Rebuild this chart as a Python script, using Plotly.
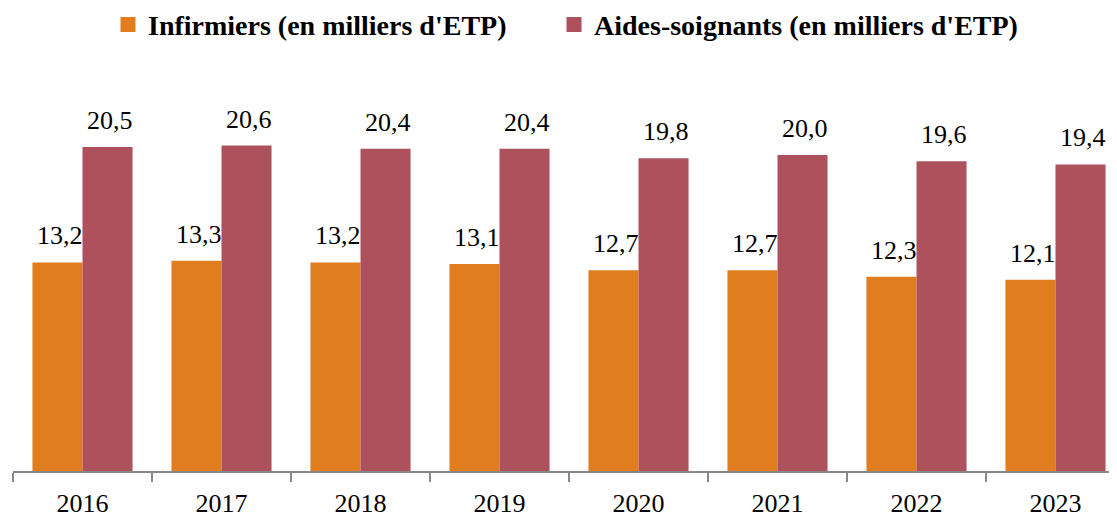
import plotly.graph_objects as go

years = ["2016", "2017", "2018", "2019", "2020", "2021", "2022", "2023"]
infirmiers = [13.2, 13.3, 13.2, 13.1, 12.7, 12.7, 12.3, 12.1]
aides = [20.5, 20.6, 20.4, 20.4, 19.8, 20.0, 19.6, 19.4]
name_inf = "Infirmiers (en milliers d'ETP)"
name_aid = "Aides-soignants (en milliers d'ETP)"

c_inf = "#E07D1E"
c_aid = "#AD525C"
serif = "Liberation Serif, Times New Roman, serif"

def fmt(v):
    return f"{v:.1f}".replace(".", ",")

fig = go.Figure()
fig.add_trace(go.Bar(x=years, y=infirmiers, name=name_inf, showlegend=False,
                     marker=dict(color=c_inf, line=dict(width=0))))
fig.add_trace(go.Bar(x=years, y=aides, name=name_aid, showlegend=False,
                     marker=dict(color=c_aid, line=dict(width=0))))
# legend entries with square markers (two separate legends for exact placement)
fig.add_trace(go.Scatter(x=[None], y=[None], mode="markers", name=name_inf, legend="legend",
                         marker=dict(symbol="square", size=15, color=c_inf)))
fig.add_trace(go.Scatter(x=[None], y=[None], mode="markers", name=name_aid, legend="legend2",
                         marker=dict(symbol="square", size=15, color=c_aid)))

ann = []
for i, v in enumerate(infirmiers):
    ann.append(dict(x=i, y=v, text=fmt(v), showarrow=False, xref="x", yref="y",
                    xanchor="center", yanchor="bottom", xshift=-23, yshift=10,
                    font=dict(family=serif, size=26, color="black")))
for i, v in enumerate(aides):
    ann.append(dict(x=i, y=v, text=fmt(v), showarrow=False, xref="x", yref="y",
                    xanchor="center", yanchor="bottom", xshift=27, yshift=10,
                    font=dict(family=serif, size=26, color="black")))

legend_font = dict(family=serif, size=28, color="black", weight="bold")
fig.update_layout(
    width=1117, height=516,
    margin=dict(l=5, r=0, t=68, b=53, autoexpand=False),
    paper_bgcolor="white", plot_bgcolor="white",
    barmode="group", bargap=0.28, bargroupgap=0,
    showlegend=True,
    legend=dict(orientation="h", x=(108 - 13) / 1112, xref="paper", xanchor="left",
                y=1.193, yref="paper", yanchor="top", font=legend_font),
    legend2=dict(orientation="h", x=(554 - 13) / 1112, xref="paper", xanchor="left",
                 y=1.193, yref="paper", yanchor="top", font=legend_font),
    annotations=ann,
    xaxis=dict(type="category", range=[-0.5, 7.5], tickson="boundaries",
               ticks="outside", ticklen=9, tickcolor="#888888", tickwidth=2,
               showline=True, linecolor="#888888", linewidth=2, automargin=False,
               ticklabelstandoff=8,
               showgrid=False, tickfont=dict(family=serif, size=26, color="black")),
    yaxis=dict(range=[0, 25], visible=False, showgrid=False, automargin=False),
)

fig.write_html("out.html")
